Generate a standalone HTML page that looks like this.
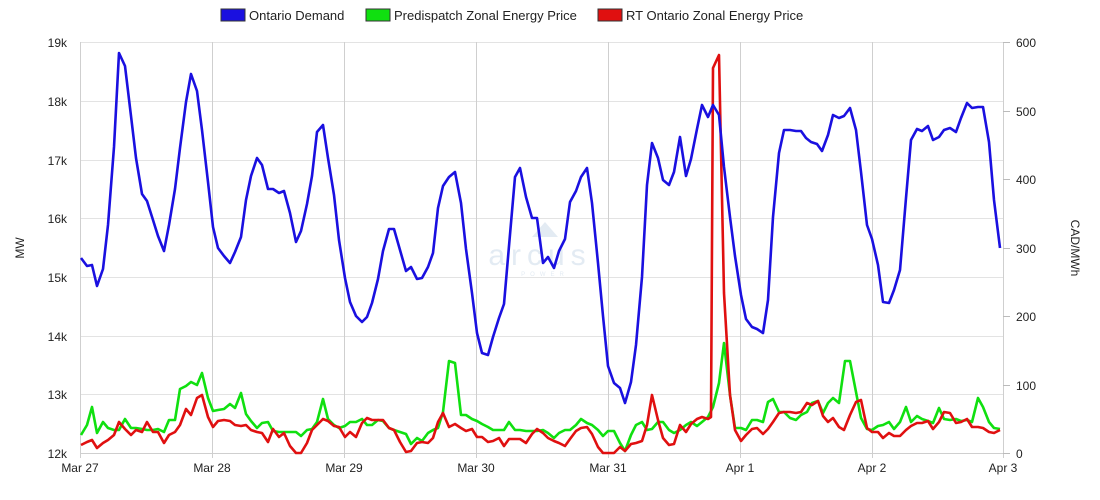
<!DOCTYPE html>
<html><head><meta charset="utf-8"><style>
body{margin:0;background:#fff;}
svg{display:block;font-family:"Liberation Sans",Arial,sans-serif;}
</style></head><body>
<svg width="1100" height="500" viewBox="0 0 1100 500" xmlns="http://www.w3.org/2000/svg">
<rect width="1100" height="500" fill="#fff"/>
<rect x="221" y="9" width="24" height="12" fill="#1a10e0" stroke="#333" stroke-width="1"/>
<text x="249" y="20" font-size="13" fill="#222">Ontario Demand</text>
<rect x="366" y="9" width="24" height="12" fill="#10e010" stroke="#333" stroke-width="1"/>
<text x="394" y="20" font-size="13" fill="#222">Predispatch Zonal Energy Price</text>
<rect x="598" y="9" width="24" height="12" fill="#e01010" stroke="#333" stroke-width="1"/>
<text x="626" y="20" font-size="13" fill="#222">RT Ontario Zonal Energy Price</text>
<g stroke="#e3e3e3" stroke-width="1">
<line x1="80" y1="42.5" x2="1003" y2="42.5"/>
<line x1="80" y1="101.5" x2="1003" y2="101.5"/>
<line x1="80" y1="160.5" x2="1003" y2="160.5"/>
<line x1="80" y1="218.5" x2="1003" y2="218.5"/>
<line x1="80" y1="277.5" x2="1003" y2="277.5"/>
<line x1="80" y1="336.5" x2="1003" y2="336.5"/>
<line x1="80" y1="394.5" x2="1003" y2="394.5"/>
</g>
<g stroke="#cfcfcf" stroke-width="1">
<line x1="80.5" y1="42" x2="80.5" y2="458"/>
<line x1="212.5" y1="42" x2="212.5" y2="458"/>
<line x1="344.5" y1="42" x2="344.5" y2="458"/>
<line x1="476.5" y1="42" x2="476.5" y2="458"/>
<line x1="608.5" y1="42" x2="608.5" y2="458"/>
<line x1="740.5" y1="42" x2="740.5" y2="458"/>
<line x1="872.5" y1="42" x2="872.5" y2="458"/>
<line x1="1003.5" y1="42" x2="1003.5" y2="458"/>
<line x1="80" y1="453.5" x2="1003" y2="453.5"/>
</g>
<g stroke="#bbb"><line x1="1003" y1="42.5" x2="1010" y2="42.5"/><line x1="1003" y1="111.5" x2="1010" y2="111.5"/><line x1="1003" y1="179.5" x2="1010" y2="179.5"/><line x1="1003" y1="248.5" x2="1010" y2="248.5"/><line x1="1003" y1="316.5" x2="1010" y2="316.5"/><line x1="1003" y1="385.5" x2="1010" y2="385.5"/><line x1="1003" y1="453.5" x2="1010" y2="453.5"/></g>
<g font-size="12" fill="#222" text-anchor="end">
<text x="67" y="47">19k</text><text x="67" y="106">18k</text><text x="67" y="165">17k</text><text x="67" y="223">16k</text><text x="67" y="282">15k</text><text x="67" y="341">14k</text><text x="67" y="399">13k</text><text x="67" y="458">12k</text>
</g>
<g font-size="12" fill="#222">
<text x="1016" y="47">600</text><text x="1016" y="116">500</text><text x="1016" y="184">400</text><text x="1016" y="253">300</text><text x="1016" y="321">200</text><text x="1016" y="390">100</text><text x="1016" y="458">0</text>
</g>
<g font-size="12" fill="#222" text-anchor="middle">
<text x="80" y="472">Mar 27</text><text x="212" y="472">Mar 28</text><text x="344" y="472">Mar 29</text><text x="476" y="472">Mar 30</text><text x="608" y="472">Mar 31</text><text x="740" y="472">Apr 1</text><text x="872" y="472">Apr 2</text><text x="1003" y="472">Apr 3</text>
</g>
<text transform="translate(24,248) rotate(-90)" font-size="12" fill="#222" text-anchor="middle">MW</text>
<text transform="translate(1071,248) rotate(90)" font-size="12" fill="#222" text-anchor="middle">CAD/MWh</text>
<polygon points="532,237 545,222 558,237" fill="#e3ebf3"/>
<text x="540" y="265" font-size="30" fill="#e3ebf3" text-anchor="middle" letter-spacing="6">arcus</text>
<text x="545" y="276" font-size="6" fill="#e3ebf3" text-anchor="middle" letter-spacing="5">POWER</text>
<g fill="none" stroke-width="2.6" stroke-linejoin="round">
<polyline stroke="#10e010" points="81,435 87,425 92,407 97,433 103,422 108,428 114,430 119,430 125,419 131,428 136,428 142,429 147,430 153,430 158,429 164,432 169,420 175,420 180,389 186,386 191,382 197,385 202,373 208,398 213,411 218,410 224,409 230,404 235,408 241,393 246,414 251,421 257,428 262,423 268,422 273,431 279,432 284,432 290,432 296,432 301,436 307,430 312,429 317,422 323,399 328,419 334,425 339,428 345,426 350,422 356,422 362,419 367,425 372,425 378,420 383,421 389,428 394,430 400,432 406,434 411,444 417,438 422,441 428,433 433,430 438,428 443,412 449,361 455,363 461,415 466,415 472,419 477,421 482,424 488,427 493,430 499,430 504,430 509,422 515,430 520,430 526,431 532,431 537,431 543,430 548,433 554,438 559,433 565,430 570,430 576,425 581,419 587,423 592,425 598,430 603,436 608,431 614,431 620,443 625,451 631,435 636,425 642,422 647,430 652,429 658,422 663,422 669,430 674,433 680,430 686,425 691,422 697,426 702,422 708,417 713,407 719,383 724,343 730,395 735,428 741,428 746,430 752,420 757,420 763,422 768,402 773,399 779,412 784,412 790,418 796,420 801,415 807,412 812,403 818,401 823,413 828,403 833,398 839,403 845,361 850,361 856,392 861,418 867,429 872,430 878,426 883,425 889,422 894,429 900,422 906,407 911,422 917,416 922,419 928,421 933,423 939,408 944,419 950,420 956,419 961,421 967,420 972,422 978,398 983,407 989,422 994,428 1000,429"/>
<polyline stroke="#e01010" points="81,445 87,442 92,440 97,448 103,443 108,440 114,435 119,422 125,429 131,435 136,430 142,432 147,422 153,432 158,432 164,443 169,435 175,432 180,425 186,409 191,415 197,398 202,395 208,417 213,427 218,421 224,420 230,421 235,425 241,426 246,425 251,430 257,432 262,433 268,442 273,429 279,437 284,433 290,446 296,453 301,453 307,443 312,430 317,425 323,419 328,421 334,426 339,427 345,437 350,432 356,437 362,423 367,418 372,420 378,420 383,420 389,428 394,430 400,442 406,452 411,451 417,443 422,442 428,443 433,438 438,422 443,413 449,427 455,424 461,428 466,431 472,429 477,437 482,437 488,442 493,441 499,438 504,446 509,439 515,439 520,439 526,443 532,434 537,429 543,433 548,438 554,441 559,443 565,446 570,439 576,431 581,428 587,427 592,434 598,447 603,453 608,453 614,453 620,447 625,451 631,444 636,443 642,441 647,425 652,395 658,420 663,438 669,445 674,444 680,425 686,432 691,424 697,419 702,417 708,419 711,417 713,68 719,55 724,293 730,395 735,430 741,441 746,435 752,429 757,428 763,434 768,429 773,422 779,413 784,412 790,412 796,413 801,412 807,403 812,405 818,401 823,416 828,422 833,418 839,427 844,430 850,415 856,402 861,400 867,428 872,432 878,432 883,438 889,433 894,436 900,436 906,430 911,426 917,423 922,423 928,421 933,429 939,422 944,412 950,413 956,423 961,422 967,419 972,427 978,427 983,428 989,432 994,433 1000,430"/>
<polyline stroke="#1a10e0" points="81,258 87,266 92,265 97,286 103,269 108,225 114,147 119,53 125,66 131,116 136,158 142,194 147,201 153,220 158,236 164,251 169,225 175,189 180,148 186,102 191,74 197,91 202,130 208,182 213,227 218,248 224,256 230,263 235,252 241,237 246,200 251,176 257,158 262,165 268,189 273,189 279,193 284,191 290,213 296,242 301,231 307,204 312,176 317,132 323,125 328,158 334,195 339,240 345,278 350,302 356,316 362,322 367,317 372,303 378,279 383,251 389,229 394,229 400,250 406,271 411,267 417,279 422,278 428,267 433,253 438,208 443,186 449,177 455,172 461,203 466,249 472,293 477,333 482,353 488,355 493,337 499,318 504,304 509,246 515,177 520,168 526,197 532,218 537,218 543,263 548,257 554,268 559,251 565,239 570,202 576,191 581,177 587,168 592,203 598,263 603,316 608,366 614,383 620,388 625,403 631,382 636,345 642,277 647,185 652,143 658,158 663,180 669,185 674,172 680,137 686,176 691,159 697,129 702,105 708,117 713,105 719,115 724,167 730,217 735,256 741,295 746,319 752,327 757,329 763,333 768,300 773,217 779,153 784,130 790,130 796,131 801,131 806,138 811,142 817,144 822,151 828,135 833,115 839,118 844,116 850,108 856,130 861,172 867,225 872,239 878,265 883,302 889,303 894,290 900,270 906,198 911,140 917,129 922,131 928,126 933,140 939,137 944,130 950,128 956,132 961,118 967,103 972,108 978,107 983,107 989,142 994,200 1000,248"/>
</g>
</svg>
</body></html>
